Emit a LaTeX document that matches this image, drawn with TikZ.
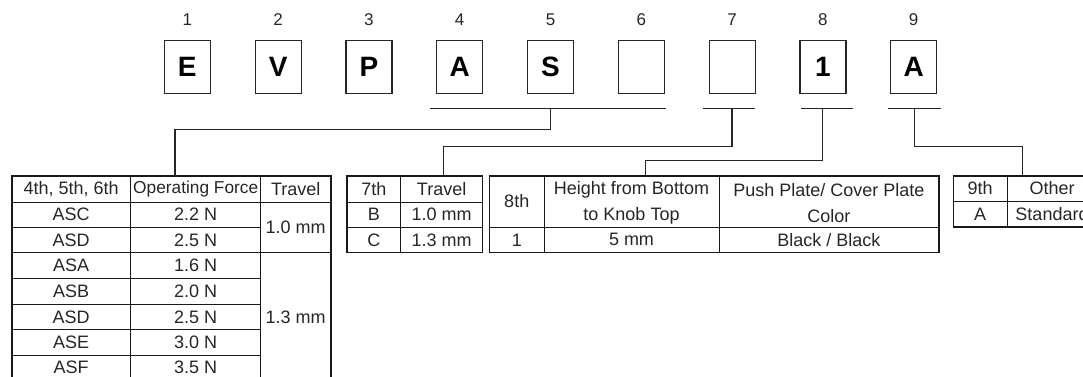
\documentclass[tikz,border=0pt]{standalone}
\usepackage{fontspec}
\setmainfont{Liberation Sans}
\begin{document}
\begin{tikzpicture}[x=1pt,y=-1pt,
  digit/.style={font=\fontsize{17}{20}\selectfont, text=black!85, inner sep=0pt},
  letterbox/.style={draw=black!85, line width=1.2pt, minimum width=46pt, minimum height=53pt, inner sep=0pt, font=\fontsize{28}{30}\selectfont\bfseries},
  cell/.style={font=\fontsize{18}{26}\selectfont, text=black!85, inner sep=0pt, align=center},
  outer/.style={draw=black!90, line width=1.6pt},
  inner/.style={draw=black!90, line width=0.8pt},
  conn/.style={draw=black!85, line width=1.2pt},
]
\useasboundingbox (0,0) rectangle (1083,376);

% letter boxes
\node[letterbox] (b1) at (187.3,66.8) {E};
\node[letterbox] (b2) at (278.1,66.8) {V};
\node[letterbox] (b3) at (368.9,66.8) {P};
\node[letterbox] (b4) at (459.7,66.8) {A};
\node[letterbox] (b5) at (550.5,66.8) {S};
\node[letterbox] (b6) at (641.3,66.8) {};
\node[letterbox] (b7) at (732.1,66.8) {};
\node[letterbox] (b8) at (822.9,66.8) {1};
\node[letterbox] (b9) at (913.7,66.8) {A};
% position numbers
\node[digit] (n1) at (187.3,19.3) {1};
\node[digit] (n2) at (278.1,19.3) {2};
\node[digit] (n3) at (368.9,19.3) {3};
\node[digit] (n4) at (459.7,19.3) {4};
\node[digit] (n5) at (550.5,19.3) {5};
\node[digit] (n6) at (641.3,19.3) {6};
\node[digit] (n7) at (732.1,19.3) {7};
\node[digit] (n8) at (822.9,19.3) {8};
\node[digit] (n9) at (913.7,19.3) {9};

% underlines
\coordinate (uaL) at (430,108.3);   \coordinate (uaR) at (665.7,108.3);
\coordinate (ubL) at (702.7,108.3); \coordinate (ubR) at (754.7,108.3);
\coordinate (ucL) at (801,108.3);   \coordinate (ucR) at (853,108.3);
\coordinate (udL) at (888.3,108.3); \coordinate (udR) at (940.7,108.3);
\draw[conn] (uaL) -- (uaR);
\draw[conn] (ubL) -- (ubR);
\draw[conn] (ucL) -- (ucR);
\draw[conn] (udL) -- (udR);

% connector coordinates
\coordinate (sa) at (550.7,108.3); \coordinate (ka) at (550.7,129.7); \coordinate (ta) at (175,175.7);
\coordinate (sb) at (732,108.3);   \coordinate (kb) at (732,146.7);   \coordinate (tb) at (443.3,175.7);
\coordinate (sc) at (822.5,108.3); \coordinate (kc) at (822.5,160.7); \coordinate (tc) at (645.7,175.7);
\coordinate (sd) at (914.3,108.3); \coordinate (kd) at (914.3,146.5); \coordinate (td) at (1022.7,175.7);
\draw[conn] (sa) -- (ka) -| (ta);
\draw[conn] (sb) -- (kb) -| (tb);
\draw[conn] (sc) -- (kc) -| (tc);
\draw[conn] (sd) -- (kd) -| (td);

% ---------- table 1 ----------
\draw[inner] (130.7,175.7) -- (130.7,381);
\draw[inner] (260.7,175.7) -- (260.7,381);
\draw[inner] (11.7,202) -- (330.7,202);
\draw[inner] (11.7,252.3) -- (330.7,252.3);
\foreach \yy in {227.3,278,304.3,329.3,355}
  \draw[inner] (11.7,\yy) -- (260.7,\yy);
\draw[outer] (11.7,175.7) rectangle (330.7,381);
\node[cell] (h1a) at (71.2,188.85) {4th, 5th, 6th};
\node[cell, font=\fontsize{17.3}{20}\selectfont] (h1b) at (195.7,188.85) {Operating Force};
\node[cell] (h1c) at (295.7,188.85) {Travel};
\node[cell] (r1a) at (71.2,214.65) {ASC};  \node[cell] (r1b) at (195.7,214.65) {2.2 N};
\node[cell] (r2a) at (71.2,239.8) {ASD};   \node[cell] (r2b) at (195.7,239.8) {2.5 N};
\node[cell] (r3a) at (71.2,265.15) {ASA};  \node[cell] (r3b) at (195.7,265.15) {1.6 N};
\node[cell] (r4a) at (71.2,291.15) {ASB};  \node[cell] (r4b) at (195.7,291.15) {2.0 N};
\node[cell] (r5a) at (71.2,316.8) {ASD};   \node[cell] (r5b) at (195.7,316.8) {2.5 N};
\node[cell] (r6a) at (71.2,342.15) {ASE};  \node[cell] (r6b) at (195.7,342.15) {3.0 N};
\node[cell] (r7a) at (71.2,367.75) {ASF};  \node[cell] (r7b) at (195.7,367.75) {3.5 N};
\node[cell] (tr1) at (295.7,227.15) {1.0 mm};
\node[cell] (tr2) at (295.7,317.5) {1.3 mm};

% ---------- table 7 ----------
\draw[inner] (400.7,175.7) -- (400.7,252.3);
\draw[inner] (347,202) -- (482.5,202);
\draw[inner] (347,227.3) -- (482.5,227.3);
\draw[outer] (347,175.7) rectangle (482.5,252.3);
\node[cell] (h7a) at (373.85,188.85) {7th};
\node[cell] (h7b) at (441.6,188.85) {Travel};
\node[cell] (s7a) at (373.85,214.65) {B};
\node[cell] (s7b) at (441.6,214.65) {1.0 mm};
\node[cell] (t7a) at (373.85,239.8) {C};
\node[cell] (t7b) at (441.6,239.8) {1.3 mm};

% ---------- table 8 ----------
\draw[inner] (544,175.7) -- (544,252.3);
\draw[inner] (719,175.7) -- (719,252.3);
\draw[inner] (489.5,227.3) -- (938.7,227.3);
\draw[outer] (489.5,175.7) rectangle (938.7,252.3);
\node[cell] (h8a) at (516.75,201.5) {8th};
\node[cell] (h8b) at (631.5,203) {Height from Bottom\\to Knob Top};
\node[cell] (h8c) at (828.85,203) {Push Plate/ Cover Plate\\Color};
\node[cell] (v8a) at (516.75,239.8) {1};
\node[cell] (v8b) at (631.5,239.8) {5 mm};
\node[cell] (v8c) at (828.85,239.8) {Black / Black};

% ---------- table 9 ----------
\draw[inner] (1007,175.7) -- (1007,227);
\draw[inner] (953.3,201.3) -- (1100,201.3);
\draw[outer] (953.3,175.7) rectangle (1100,227);
\node[cell] (h9a) at (980.15,188.5) {9th};
\node[cell] (h9b) at (1052,188.5) {Other};
\node[cell] (v9a) at (980.15,214.2) {A};
\node[cell] (v9b) at (1052,214.2) {Standard};
\end{tikzpicture}
\end{document}
